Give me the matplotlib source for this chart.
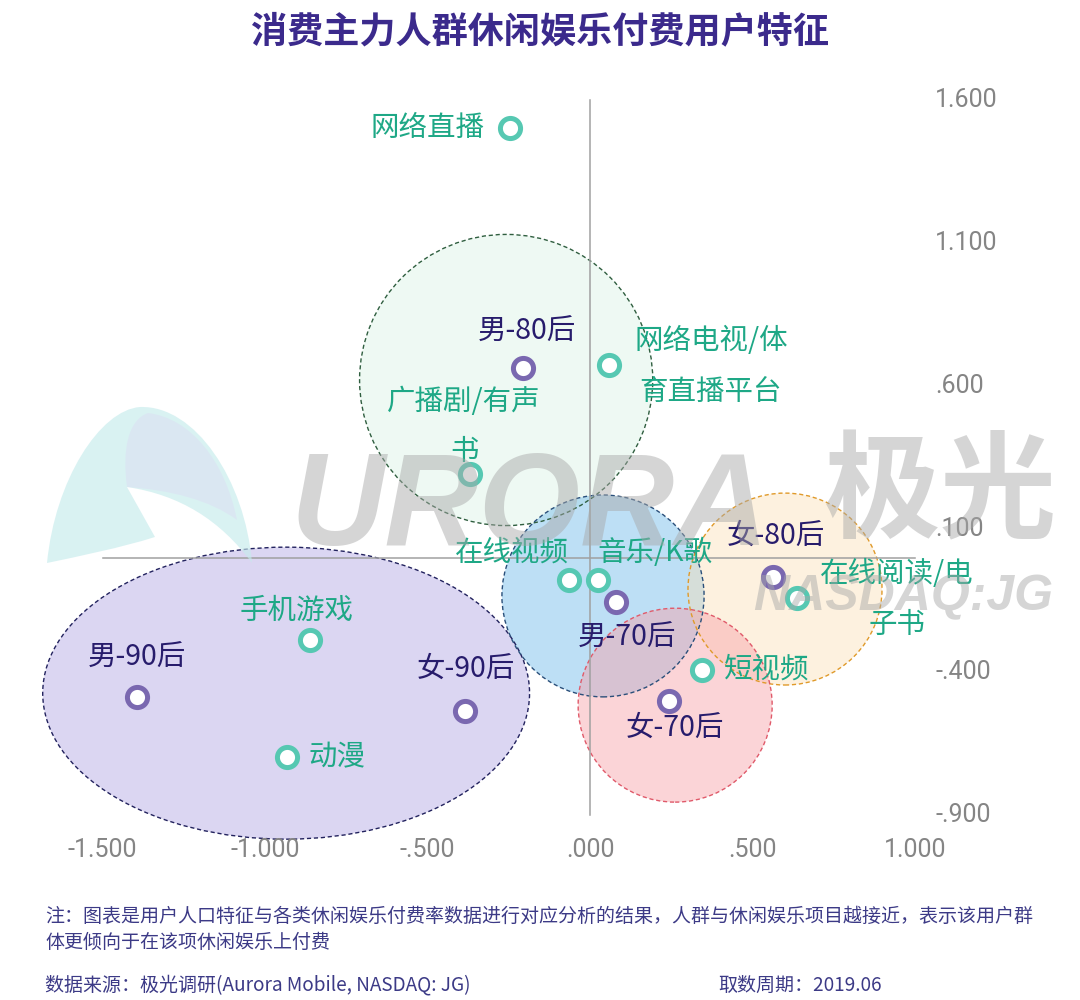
import matplotlib
matplotlib.use("Agg")
import matplotlib.pyplot as plt
from matplotlib.patches import Ellipse, PathPatch
from matplotlib.path import Path

plt.rcParams['font.family'] = ['Noto Sans CJK SC', 'DejaVu Sans']

# ---------------- data ----------------
title = "消费主力人群休闲娱乐付费用户特征"

item_names = ["网络直播", "网络电视/体\n育直播平台", "广播剧/有声\n书", "在线视频", "音乐/K歌",
              "在线阅读/电\n子书", "短视频", "手机游戏", "动漫"]
item_x = [-0.246, 0.058, -0.369, -0.065, 0.025, 0.637, 0.345, -0.862, -0.932]
item_y = [1.502, 0.673, 0.292, -0.078, -0.078, -0.142, -0.393, -0.288, -0.697]

group_names = ["男-80后", "男-70后", "女-80后", "女-70后", "男-90后", "女-90后"]
group_x = [-0.206, 0.080, 0.563, 0.243, -1.394, -0.385]
group_y = [0.663, -0.155, -0.068, -0.502, -0.488, -0.537]

# cluster ellipses: centre x, centre y, width, height (data units)
cluster_cx = [-0.258, -0.935, 0.040, 0.600, 0.262]
cluster_cy = [0.621, -0.474, -0.134, -0.110, -0.516]
cluster_w = [0.902, 1.498, 0.622, 0.597, 0.597]
cluster_h = [1.018, 1.021, 0.706, 0.671, 0.678]

x_ticks = [-1.5, -1.0, -0.5, 0.0, 0.5, 1.0]
x_tick_labels = ["-1.500", "-1.000", "-.500", ".000", ".500", "1.000"]
y_ticks = [1.6, 1.1, 0.6, 0.1, -0.4, -0.9]
y_tick_labels = ["1.600", "1.100", ".600", ".100", "-.400", "-.900"]

note_lines = ["注：图表是用户人口特征与各类休闲娱乐付费率数据进行对应分析的结果，人群与休闲娱乐项目越接近，表示该用户群",
              "体更倾向于在该项休闲娱乐上付费"]
source_text = "数据来源：极光调研(Aurora Mobile, NASDAQ: JG)"
period_text = "取数周期：2019.06"

# ---------------- styles ----------------
item_label_offsets = [(-26, 0, 'right'), (102, -1, 'center'), (-6, 47, 'center'), (-57, 27, 'center'),
                      (57, 27, 'center'), (100, -1, 'center'), (22, 0, 'left'), (-13, 29, 'center'),
                      (21, 0, 'left')]
group_label_offsets = [(4, 36), (11, -36), (3, 41), (6, -27), (0, 39), (1, 42)]

cluster_face = [("#D0EEDD", 0.35), ("#B9AFE6", 0.5), ("#7CC0EC", 0.5), ("#FCDDB0", 0.4), ("#F7A0A8", 0.45)]
cluster_edge = ["#2F5E3F", "#22225E", "#2A4F7A", "#E09A2A", "#E05A6A"]

TEAL_RING = "#56C8B2"
TEAL_TEXT = "#1EA886"
PURP_RING = "#7A68B0"
PURP_TEXT = "#271C6C"
TICK_COL = "#858585"
NOTE_COL = "#3C3A86"

W, H = 1080, 1000
fig = plt.figure(figsize=(W / 100, H / 100), dpi=100)
fig.patch.set_facecolor("white")

# axes over the whole figure; origin at pixel (590, 557.6)
ax = fig.add_axes([0, 0, 1, 1])
XS, YS = 325.0, 286.0
X0, Y0 = 590.0, 557.6
ax.set_xlim(-X0 / XS, (W - X0) / XS)
ax.set_ylim((Y0 - H) / YS, Y0 / YS)
ax.axis("off")

# ellipses
for cx, cy, w, h, (fc, a), ec in zip(cluster_cx, cluster_cy, cluster_w, cluster_h, cluster_face, cluster_edge):
    ax.add_patch(Ellipse((cx, cy), w, h, facecolor=fc, alpha=a, edgecolor="none", zorder=1))
    ax.add_patch(Ellipse((cx, cy), w, h, facecolor="none", edgecolor=ec, lw=1.0,
                         linestyle=(0, (3, 2)), zorder=1.5))

# ---------------- watermark ----------------
def fp(x, y):
    return (x / W, 1 - y / H)

outer = [fp(47, 563), fp(55, 480), fp(100, 410), fp(140, 407),
         fp(195, 405), fp(245, 480), fp(252, 563),
         fp(220, 520), fp(180, 495), fp(127, 487),
         fp(155, 537),
         fp(120, 548), fp(80, 556), fp(47, 563)]
codes = [Path.MOVETO, Path.CURVE4, Path.CURVE4, Path.CURVE4,
         Path.CURVE4, Path.CURVE4, Path.CURVE4,
         Path.CURVE4, Path.CURVE4, Path.CURVE4,
         Path.LINETO,
         Path.CURVE4, Path.CURVE4, Path.CURVE4]
fig.patches.append(PathPatch(Path(outer, codes), transform=fig.transFigure,
                             facecolor="#C6EBEC", edgecolor="none", alpha=0.65, zorder=0.5))
inner = [fp(127, 487), fp(122, 450), fp(128, 420), fp(148, 413),
         fp(190, 418), fp(225, 460), fp(237, 520),
         fp(210, 500), fp(170, 490), fp(127, 487)]
icodes = [Path.MOVETO, Path.CURVE4, Path.CURVE4, Path.CURVE4,
          Path.CURVE4, Path.CURVE4, Path.CURVE4,
          Path.CURVE4, Path.CURVE4, Path.CURVE4]
fig.patches.append(PathPatch(Path(inner, icodes), transform=fig.transFigure,
                             facecolor="#DCDDF2", edgecolor="none", alpha=0.5, zorder=0.6))

wm_kw = dict(color="#A8A8A8", alpha=0.48, zorder=2, transform=fig.transFigure)
fig.text(290 / W, 1 - 545 / H, "URORA", fontsize=94, fontweight="bold", style="italic",
         family="Liberation Sans", ha="left", va="baseline", **wm_kw)
fig.text(940 / W, 1 - 495 / H, "极光", fontsize=84, fontweight="bold",
         family="Noto Sans CJK SC", ha="center", va="center", **wm_kw)
fig.text(753 / W, 1 - 610 / H, "NASDAQ:JG", fontsize=36, fontweight="bold", style="italic",
         family="Liberation Sans", ha="left", va="baseline", **wm_kw)

# axis lines
ax.plot([x_ticks[0], x_ticks[-1]], [0, 0], color="#A0A0A0", lw=1.1, zorder=2.5)
ax.plot([0, 0], [y_ticks[-1], y_ticks[0]], color="#A0A0A0", lw=1.1, zorder=2.5)

# tick labels
for xv, lab in zip(x_ticks, x_tick_labels):
    ax.annotate(lab, (xv, 0), xycoords=("data", "axes fraction"), xytext=(0, 1 - 850 / H),
                textcoords=("offset pixels", "axes fraction"), ha="center", va="center",
                fontsize=18, color=TICK_COL, family="Roboto")
for yv, lab in zip(y_ticks, y_tick_labels):
    ax.annotate(lab, (0, yv), xycoords=("axes fraction", "data"), xytext=(935 / W, 0),
                textcoords=("axes fraction", "offset pixels"), ha="left", va="center",
                fontsize=18, color=TICK_COL, family="Roboto")

# markers
ax.plot(item_x, item_y, "o", ms=14.5, mfc="white", mec=TEAL_RING, mew=3.6, zorder=4, ls="none")
ax.plot(group_x, group_y, "o", ms=14.5, mfc="white", mec=PURP_RING, mew=3.6, zorder=4, ls="none")

# labels
for name, xv, yv, (dx, dy, ha) in zip(item_names, item_x, item_y, item_label_offsets):
    ax.annotate(name, (xv, yv), xytext=(dx, dy), textcoords="offset pixels", ha=ha, va="center",
                fontsize=20.5, color=TEAL_TEXT, linespacing=1.9, multialignment="center", zorder=5)
for name, xv, yv, (dx, dy) in zip(group_names, group_x, group_y, group_label_offsets):
    ax.annotate(name, (xv, yv), xytext=(dx, dy), textcoords="offset pixels", ha="center", va="center",
                fontsize=20.5, color=PURP_TEXT, zorder=5)

# title
fig.text(0.5, 1 - 32 / H, title, ha="center", va="center", fontsize=26, fontweight="bold", color="#3B2A8C")

# notes
fig.text(45 / W, 1 - 916 / H, note_lines[0], ha="left", va="center", fontsize=13.7, color=NOTE_COL)
fig.text(45 / W, 1 - 942 / H, note_lines[1], ha="left", va="center", fontsize=13.7, color=NOTE_COL)
fig.text(45 / W, 1 - 985 / H, source_text, ha="left", va="center", fontsize=13.7, color=NOTE_COL)
fig.text(718 / W, 1 - 985 / H, period_text, ha="left", va="center", fontsize=13.7, color=NOTE_COL)

fig.savefig("out.png", dpi=100, facecolor="white")
